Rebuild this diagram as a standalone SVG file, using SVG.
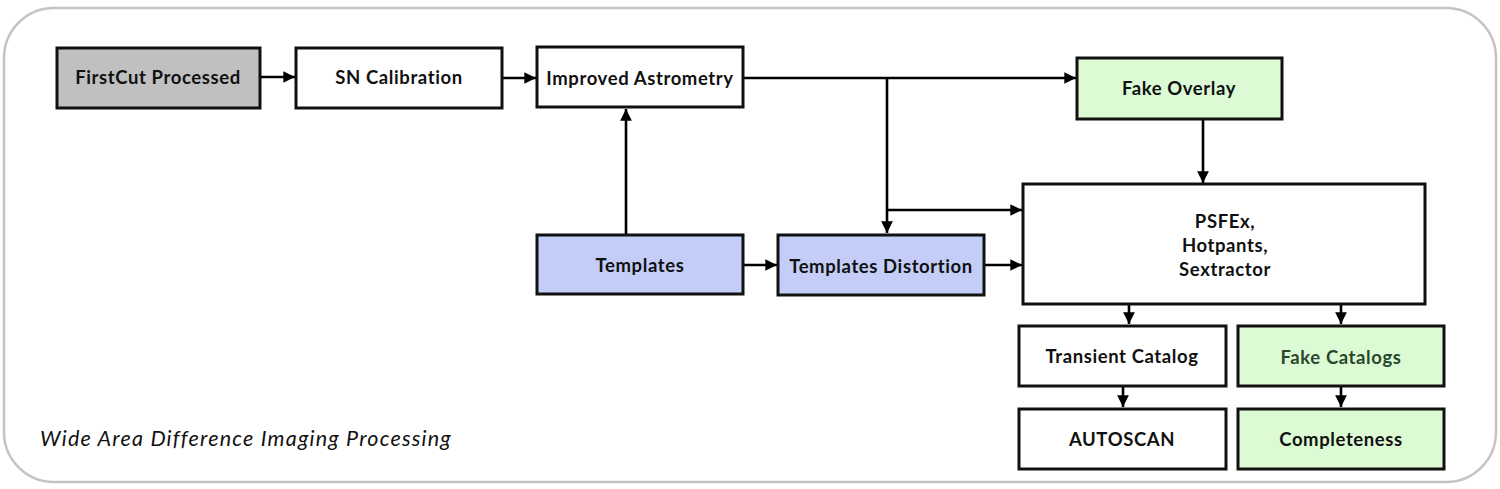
<svg xmlns="http://www.w3.org/2000/svg" width="1500" height="489" viewBox="0 0 1500 489">
<style>
.box{stroke:#111;stroke-width:3}
.t{font-family:Lato,"Noto Sans",sans-serif;font-weight:bold;font-size:18.5px;letter-spacing:0.6px;fill:#111;text-anchor:middle;dominant-baseline:central}
.c{stroke:#000;stroke-width:2.6;fill:none}
</style>
<defs>
<marker id="ah" viewBox="0 0 10 10" refX="10" refY="5" markerWidth="4.5" markerHeight="5" markerUnits="strokeWidth" orient="auto">
<path d="M0,0 L10,5 L0,10 Z" fill="#000"/>
</marker>
</defs>
<rect x="4" y="8" width="1492" height="474" rx="50" fill="#fff" stroke="#c4c4c4" stroke-width="2.5"/>
<text x="40" y="446" font-family="Lato,'Noto Sans',sans-serif" font-style="italic" font-size="21.5" letter-spacing="1.2" fill="#111">Wide Area Difference Imaging Processing</text>
<g id="connectors">
<line class="c" x1="261" y1="77" x2="295" y2="77" marker-end="url(#ah)"/>
<line class="c" x1="502" y1="78" x2="536" y2="78" marker-end="url(#ah)"/>
<line class="c" x1="743" y1="78" x2="1076" y2="78" marker-end="url(#ah)"/>
<line class="c" x1="887" y1="78" x2="887" y2="233" marker-end="url(#ah)"/>
<line class="c" x1="887" y1="210" x2="1022" y2="210" marker-end="url(#ah)"/>
<line class="c" x1="626" y1="236" x2="626" y2="109" marker-end="url(#ah)"/>
<line class="c" x1="743" y1="265" x2="777" y2="265" marker-end="url(#ah)"/>
<line class="c" x1="984" y1="265" x2="1022" y2="265" marker-end="url(#ah)"/>
<line class="c" x1="1203" y1="119" x2="1203" y2="183" marker-end="url(#ah)"/>
<line class="c" x1="1129" y1="304" x2="1129" y2="324" marker-end="url(#ah)"/>
<line class="c" x1="1341" y1="304" x2="1341" y2="324" marker-end="url(#ah)"/>
<line class="c" x1="1123" y1="386" x2="1123" y2="407" marker-end="url(#ah)"/>
<line class="c" x1="1341" y1="386" x2="1341" y2="407" marker-end="url(#ah)"/>
</g>
<g id="firstcut"><rect class="box" x="57" y="48" width="203" height="60" fill="#c0c0c0"/><text class="t" x="158" y="77">FirstCut Processed</text></g>
<g id="sncal"><rect class="box" x="296" y="48" width="206" height="60" fill="#fff"/><text class="t" x="399" y="77">SN Calibration</text></g>
<g id="astrometry"><rect class="box" x="537" y="47" width="206" height="60" fill="#fff"/><text class="t" x="640" y="78">Improved Astrometry</text></g>
<g id="fakeoverlay"><rect class="box" x="1077" y="58" width="205" height="61" fill="#dcfbd5"/><text class="t" x="1179" y="88">Fake Overlay</text></g>
<g id="psfex"><rect class="box" x="1023" y="184" width="402" height="120" fill="#fff"/><text class="t" x="1225" y="221">PSFEx,</text><text class="t" x="1225" y="245">Hotpants,</text><text class="t" x="1225" y="269">Sextractor</text></g>
<g id="templates"><rect class="box" x="537" y="235" width="206" height="59" fill="#c3cdf8"/><text class="t" x="640" y="265">Templates</text></g>
<g id="distortion"><rect class="box" x="778" y="235" width="206" height="60" fill="#c3cdf8"/><text class="t" x="881" y="266">Templates Distortion</text></g>
<g id="transient"><rect class="box" x="1019" y="326" width="207" height="60" fill="#fff"/><text class="t" x="1122" y="356">Transient Catalog</text></g>
<g id="fakecat"><rect class="box" x="1238" y="326" width="206" height="60" fill="#dcfbd5"/><text class="t" x="1341" y="357" style="fill:#2b472b">Fake Catalogs</text></g>
<g id="autoscan"><rect class="box" x="1019" y="409" width="207" height="60" fill="#fff"/><text class="t" x="1122" y="439">AUTOSCAN</text></g>
<g id="completeness"><rect class="box" x="1238" y="409" width="206" height="60" fill="#dcfbd5"/><text class="t" x="1341" y="439">Completeness</text></g>
</svg>
